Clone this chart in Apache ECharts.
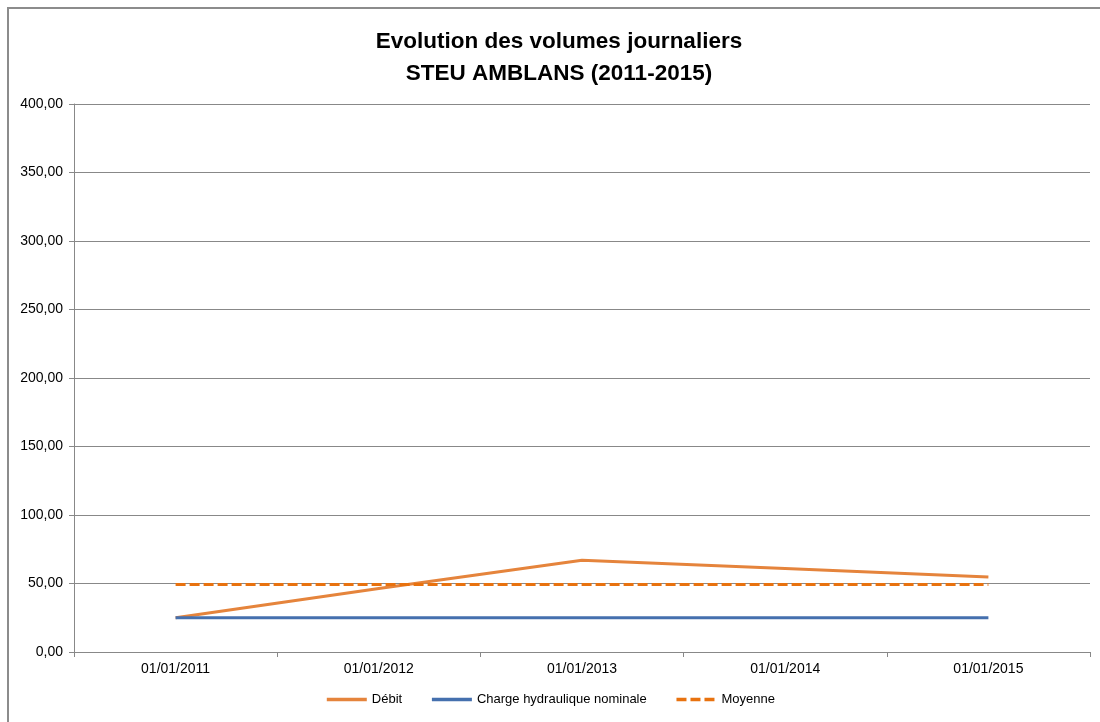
<!DOCTYPE html>
<html>
<head>
<meta charset="utf-8">
<script src="https://cdn.jsdelivr.net/npm/echarts@6/dist/echarts.min.js"></script>
<style>
html,body{margin:0;padding:0;background:#fff;}
#c{width:1100px;height:722px;}
</style>
</head>
<body>
<div id="c"></div>
<script>
var categories = ['01/01/2011', '01/01/2012', '01/01/2013', '01/01/2014', '01/01/2015'];
var debit = [25.0, 46.3, 67.0, 61.0, 54.8];
var chargeNominale = [25.0, 25.0, 25.0, 25.0, 25.0];
var moyenne = [49.3, 49.3, 49.3, 49.3, 49.3];
var titleLines = ['Evolution des volumes journaliers', 'STEU AMBLANS (2011-2015)'];
var seriesNames = ['Débit', 'Charge hydraulique nominale', 'Moyenne'];

var font = 'Liberation Sans';
var chart = echarts.init(document.getElementById('c'));
chart.setOption({
  animation: false,
  backgroundColor: '#fff',
  title: {
    text: titleLines.join('\n'),
    left: 554,
    textAlign: 'center',
    top: 21,
    textStyle: { fontFamily: font, fontWeight: 'bold', fontSize: 22.5, lineHeight: 32, color: '#000' }
  },
  graphic: [{
    type: 'rect', silent: true,
    shape: { x: 8, y: 8, width: 1200, height: 800 },
    style: { fill: null, stroke: '#8c8c8c', lineWidth: 2 }
  }],
  legend: {
    bottom: 11,
    left: 'center',
    itemWidth: 40,
    itemHeight: 10,
    itemGap: 28,
    itemStyle: { opacity: 0 },
    lineStyle: { width: 3.5 },
    textStyle: { fontFamily: font, fontSize: 13, color: '#000' },
    data: seriesNames
  },
  grid: { left: 74, right: 10, top: 104, bottom: 70 },
  xAxis: {
    type: 'category',
    data: categories,
    boundaryGap: true,
    axisLine: { lineStyle: { color: '#888', width: 1 } },
    axisTick: { show: true, length: 5, interval: 0, lineStyle: { color: '#888' } },
    axisLabel: { fontFamily: font, fontSize: 14, color: '#000', margin: 10 }
  },
  yAxis: {
    type: 'value',
    min: 0, max: 400, interval: 50,
    axisLine: { show: true, lineStyle: { color: '#888', width: 1 } },
    axisTick: { show: true, length: 5, lineStyle: { color: '#888' } },
    axisLabel: {
      fontFamily: font, fontSize: 14, color: '#000', margin: 11,
      formatter: function (v) { return v.toFixed(2).replace('.', ','); }
    },
    splitLine: { lineStyle: { color: '#888', width: 1 } }
  },
  series: [
    { name: seriesNames[0], type: 'line', data: debit, symbol: 'none',
      itemStyle: { color: '#E5843C' }, lineStyle: { color: '#E5843C', width: 3 } },
    { name: seriesNames[1], type: 'line', data: chargeNominale, symbol: 'none',
      itemStyle: { color: '#4570AE' }, lineStyle: { color: '#4570AE', width: 3 } },
    { name: seriesNames[2], type: 'line', data: moyenne, symbol: 'none',
      itemStyle: { color: '#E8720F' }, lineStyle: { color: '#E8720F', width: 3, type: [10, 4] } }
  ]
});
</script>
</body>
</html>
